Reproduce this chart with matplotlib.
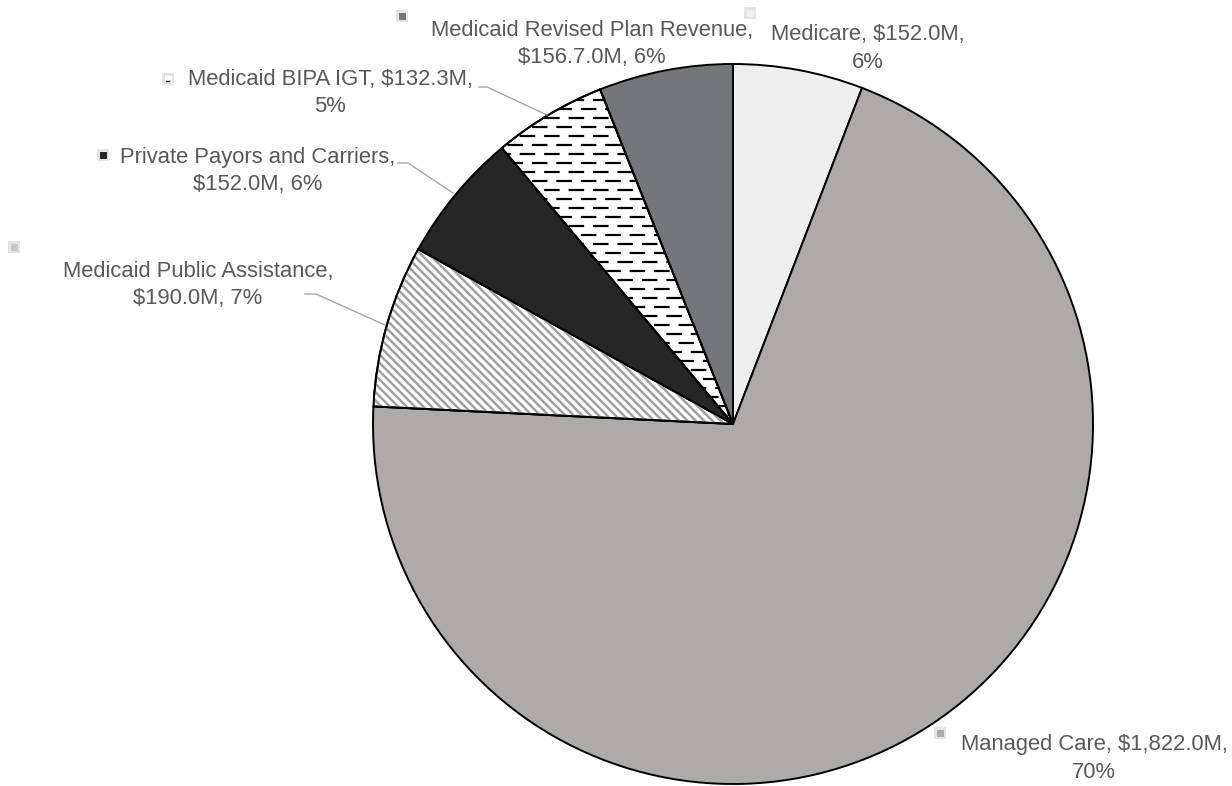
### Revenue by payor pie chart
import matplotlib.pyplot as plt
import numpy as np
from matplotlib.patches import Wedge, Rectangle

plt.rcParams['font.family'] = ['Liberation Sans', 'DejaVu Sans']
plt.rcParams['hatch.linewidth'] = 1.8

# data (clockwise from top)
payors = ['Medicare', 'Managed Care', 'Medicaid Public Assistance',
          'Private Payors and Carriers', 'Medicaid BIPA IGT',
          'Medicaid Revised Plan Revenue']
revenue = [152.0, 1822.0, 190.0, 152.0, 132.3, 156.7]
labels = ['Medicare, $152.0M,\n6%',
          'Managed Care, $1,822.0M,\n70%',
          'Medicaid Public Assistance,\n$190.0M, 7%',
          'Private Payors and Carriers,\n$152.0M, 6%',
          'Medicaid BIPA IGT, $132.3M,\n5%',
          'Medicaid Revised Plan Revenue,\n$156.7.0M, 6%']
colors = ['#efefef', '#aeaaaa', 'white', '#262626', 'white', '#75767a']

# label layout in pixels (x, y of text centre), legend key positions
label_xy = [(868, 48.5), (1094, 758.5), (198, 285), (258, 171), (330, 93), (592, 44)]
key_xy = [(750, 13), (940, 733), (14, 247), (103, 155), (168, 79), (402, 16)]
# leader lines (pixel polylines) for some labels
leaders = {2: [(305, 294), (316, 294), (385, 325)],
           3: [(398, 163), (408, 163), (453, 193)],
           4: [(479, 87), (487, 87), (547, 115)]}

W, H = 1232, 786
cx, cy, r = 733, 424, 360

fig = plt.figure(figsize=(W / 100, H / 100), dpi=100)
ax = fig.add_axes([(cx - r) / W, (H - cy - r) / H, 2 * r / W, 2 * r / H])
wedges, _ = ax.pie(revenue, colors=colors, startangle=90, counterclock=False,
                   wedgeprops=dict(edgecolor='black', linewidth=1.4))
ax.set_xlim(-1, 1)
ax.set_ylim(-1, 1)

# diagonal stripes for public assistance
w = wedges[2]
stripes = Wedge(w.center, w.r, w.theta1, w.theta2, facecolor='none',
                edgecolor='#a0a0a0', hatch='\\' * 4, linewidth=0, zorder=w.get_zorder() + 0.1)
ax.add_patch(stripes)
ax.add_patch(Wedge(w.center, w.r, w.theta1, w.theta2, facecolor='none',
                   edgecolor='black', linewidth=1.4, zorder=w.get_zorder() + 0.2))

# dashed horizontal pattern for BIPA IGT
w = wedges[4]
step = 9 / r
rows = np.arange(0, 1, step)
for i, yy in enumerate(rows):
    off = 0 if i % 2 == 0 else 5.5
    ln, = ax.plot([-1, 1], [yy, yy], color='black', lw=1.6,
                  linestyle=(off, (7, 4)), zorder=w.get_zorder() + 0.1)
    ln.set_clip_path(w)
ax.add_patch(Wedge(w.center, w.r, w.theta1, w.theta2, facecolor='none',
                   edgecolor='black', linewidth=1.4, zorder=w.get_zorder() + 0.2))

# overlay for labels in pixel coordinates
ov = fig.add_axes([0, 0, 1, 1])
ov.set_xlim(0, W)
ov.set_ylim(H, 0)
ov.axis('off')
ov.patch.set_alpha(0)

for i, lab in enumerate(labels):
    x, y = label_xy[i]
    ov.text(x, y, lab, ha='center', va='center', fontsize=15.8, color='#595959',
            multialignment='center', linespacing=1.42)
    kx, ky = key_xy[i]
    ov.add_patch(Rectangle((kx - 6, ky - 6), 12, 12, facecolor='#e4e4e4',
                           edgecolor='none'))
    fc = colors[i]
    inner = Rectangle((kx - 3.5, ky - 3.5), 7, 7, facecolor=fc, edgecolor='none')
    if i == 2:
        inner.set_facecolor('#c8c8c8')
    if i == 4:
        inner.set_facecolor('white')
    ov.add_patch(inner)
    if i == 4:
        ov.plot([kx - 2, kx + 1], [ky + 1.5, ky + 1.5], color='black', lw=1)

for i, pts in leaders.items():
    xs, ys = zip(*pts)
    ov.plot(xs, ys, color='#a6a6a6', lw=1)

fig.savefig('out.png', dpi=100)
